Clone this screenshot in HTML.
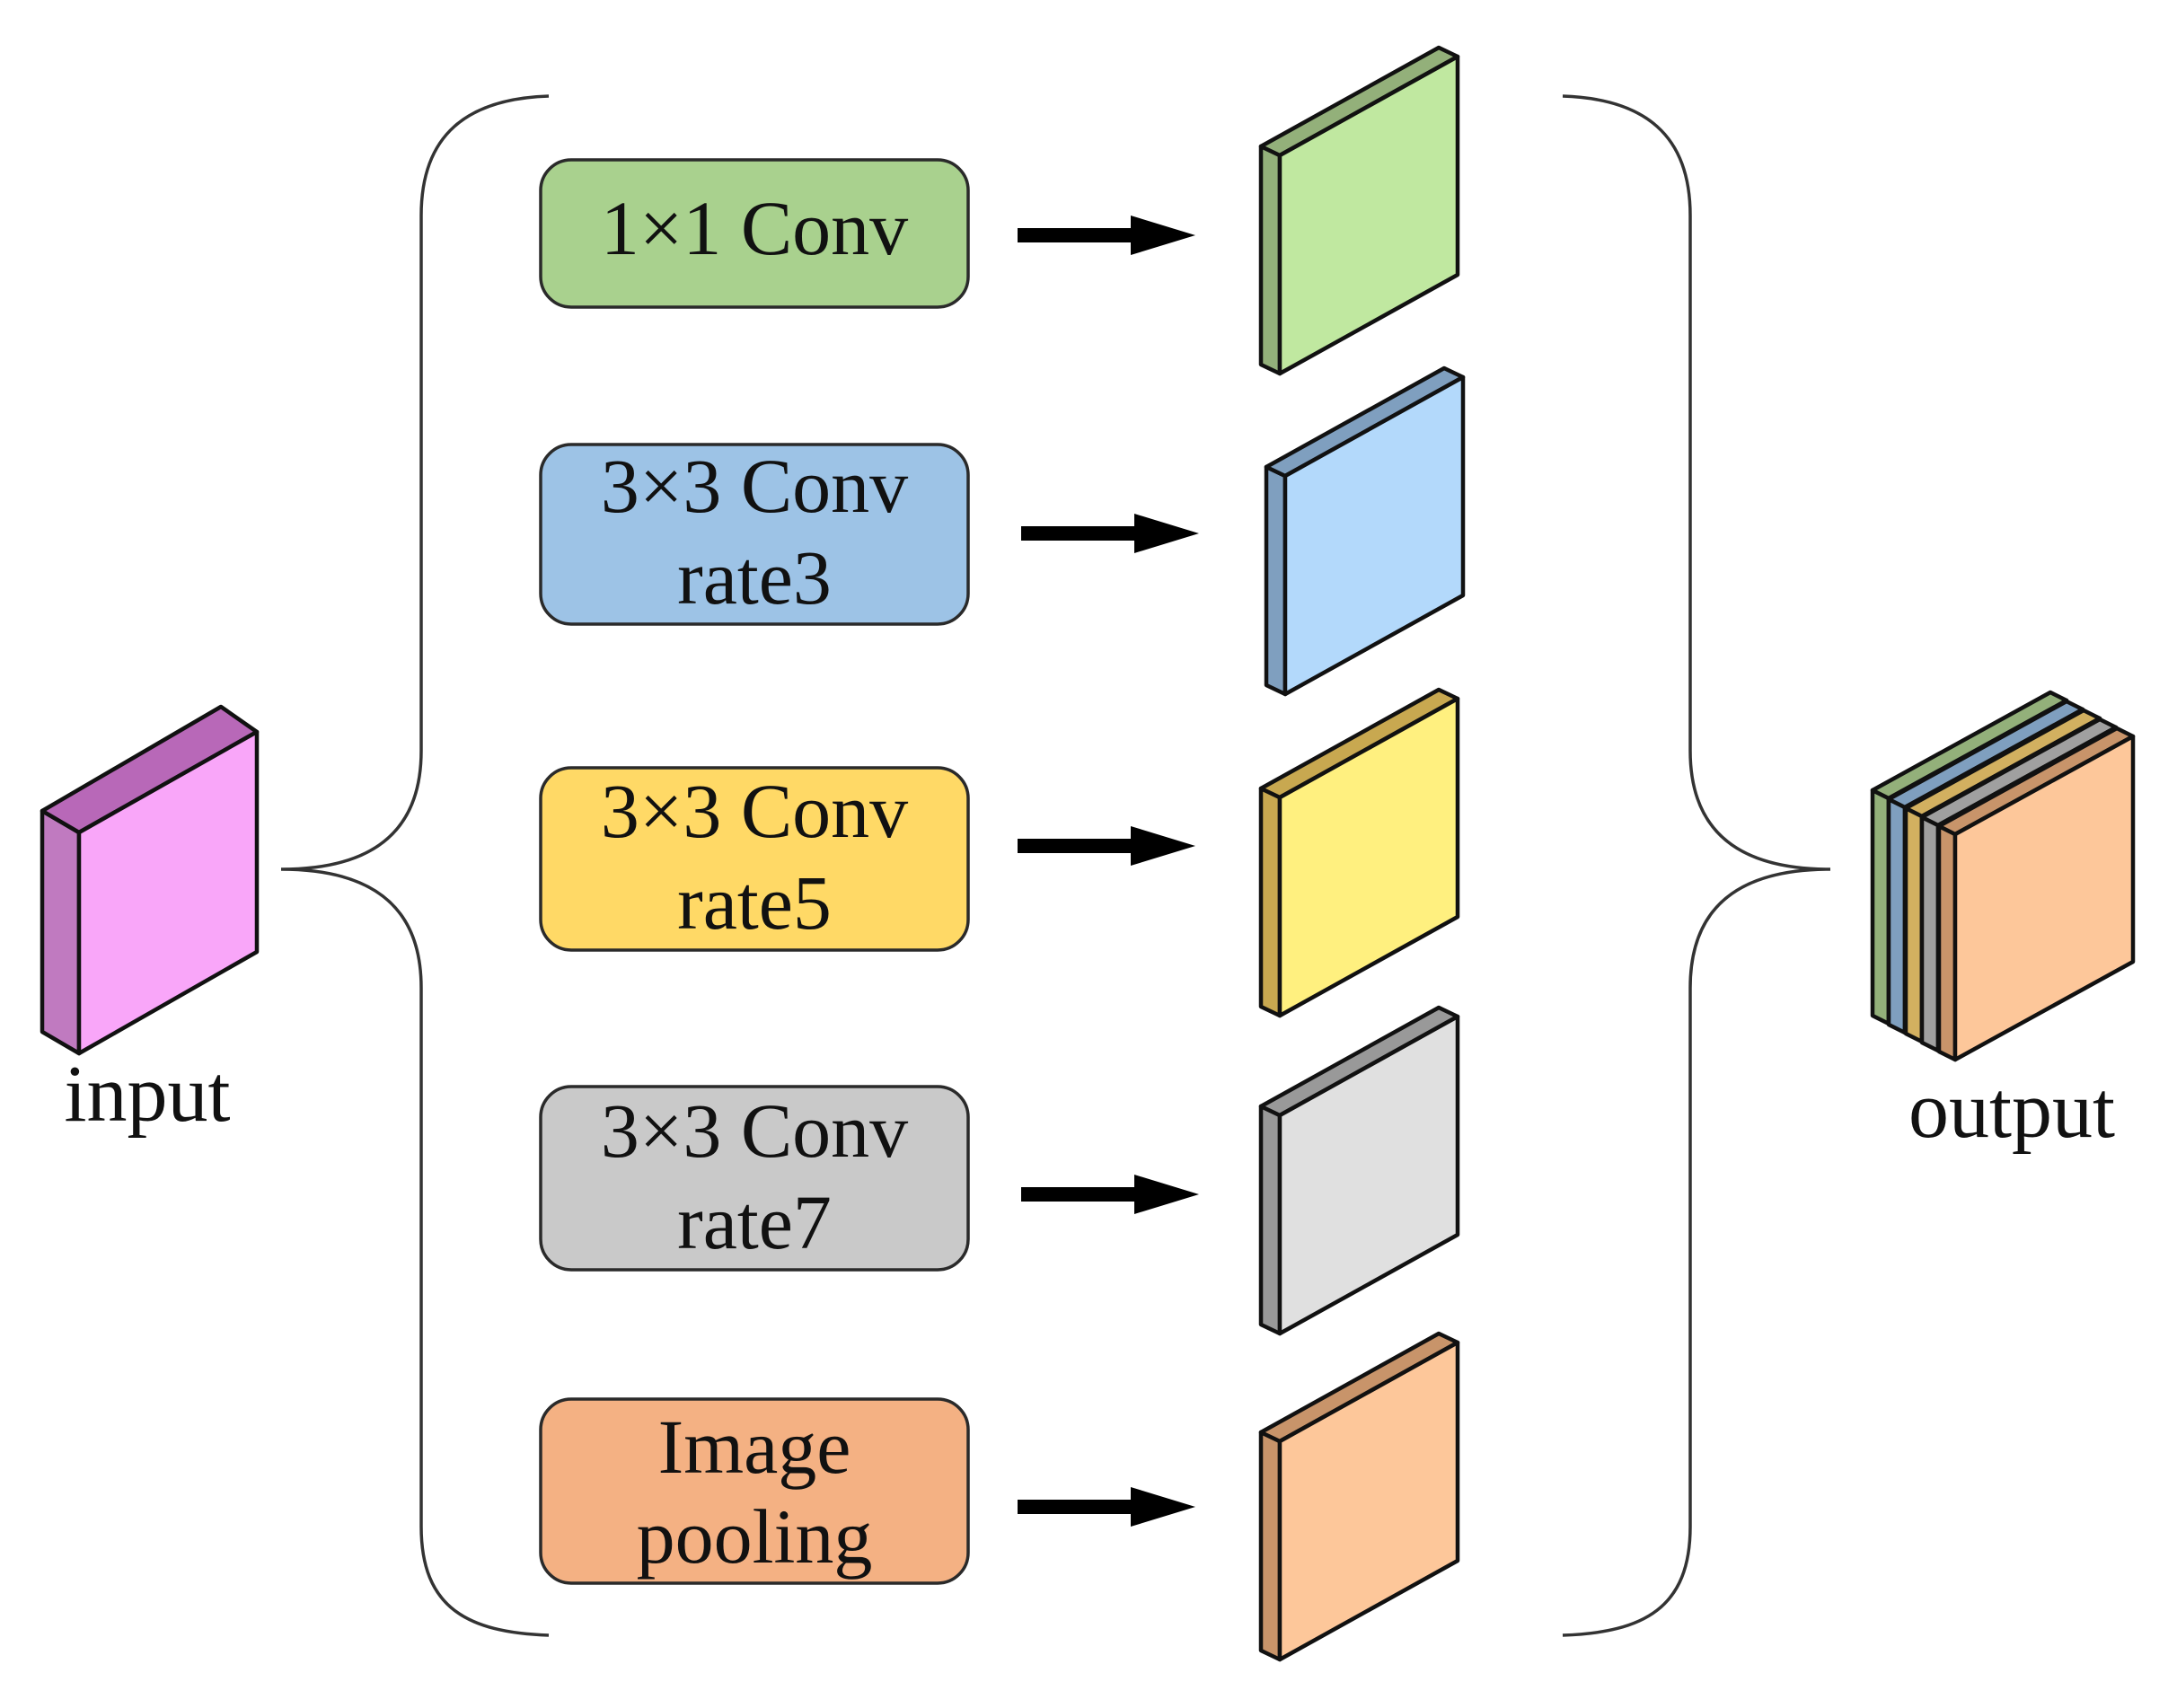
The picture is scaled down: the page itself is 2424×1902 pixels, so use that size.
<!DOCTYPE html>
<html><head><meta charset="utf-8"><style>
html,body{margin:0;padding:0;background:#fff;}
svg{display:block;}
text{font-family:"Liberation Serif",serif;fill:#111;}
</style></head><body>
<svg width="2424" height="1902" viewBox="0 0 2424 1902" xmlns="http://www.w3.org/2000/svg">
<g fill="none" stroke="#333" stroke-width="3.5">
<path d="M611,107 C520,110 469,150 469,240 L469,836 C469,930 410,968 313,968 C410,968 469,1006 469,1100 L469,1700 C469,1790 520,1818 611,1821"/>
<path d="M1740,107 C1831,110 1882,150 1882,240 L1882,836 C1882,930 1941,968 2038,968 C1941,968 1882,1006 1882,1100 L1882,1700 C1882,1790 1831,1818 1740,1821"/>
</g>
<g stroke="#2a2a2a" stroke-width="3.5">
<rect x="602" y="178" width="476" height="164" rx="34" fill="#a9d18e"/>
<rect x="602" y="495" width="476" height="200" rx="34" fill="#9dc3e6"/>
<rect x="602" y="855" width="476" height="203" rx="34" fill="#ffd966"/>
<rect x="602" y="1210" width="476" height="204" rx="34" fill="#c9c9c9"/>
<rect x="602" y="1558" width="476" height="205" rx="34" fill="#f4b183"/>
</g>
<g font-size="86" text-anchor="middle">
<text x="840" y="283">1×1 Conv</text>
<text x="840" y="570">3×3 Conv</text><text x="840" y="672">rate3</text>
<text x="840" y="932">3×3 Conv</text><text x="840" y="1034">rate5</text>
<text x="840" y="1288">3×3 Conv</text><text x="840" y="1390">rate7</text>
<text x="840" y="1640">Image</text><text x="840" y="1740">pooling</text>
</g>
<g fill="#000">
<g transform="translate(0,262)"><rect x="1133" y="-8" width="130" height="16"/><polygon points="1259,-22 1331,0 1259,22"/></g>
<g transform="translate(0,594)"><rect x="1137" y="-8" width="130" height="16"/><polygon points="1263,-22 1335,0 1263,22"/></g>
<g transform="translate(0,942)"><rect x="1133" y="-8" width="130" height="16"/><polygon points="1259,-22 1331,0 1259,22"/></g>
<g transform="translate(0,1330)"><rect x="1137" y="-8" width="130" height="16"/><polygon points="1263,-22 1335,0 1263,22"/></g>
<g transform="translate(0,1678)"><rect x="1133" y="-8" width="130" height="16"/><polygon points="1259,-22 1331,0 1259,22"/></g>
</g>
<g stroke="#111" stroke-width="4.5" stroke-linejoin="round">
<g transform="translate(1425,63)">
<polygon points="-21,100 0,110 0,353 -21,343" fill="#93b07a"/>
<polygon points="-21,100 177,-10 198,0 0,110" fill="#93b07a"/>
<polygon points="0,110 198,0 198,243 0,353" fill="#c0e8a0"/>
</g>
<g transform="translate(1431,420)">
<polygon points="-21,100 0,110 0,353 -21,343" fill="#7f9fbf"/>
<polygon points="-21,100 177,-10 198,0 0,110" fill="#7f9fbf"/>
<polygon points="0,110 198,0 198,243 0,353" fill="#b3d9fb"/>
</g>
<g transform="translate(1425,778)">
<polygon points="-21,100 0,110 0,353 -21,343" fill="#c8a850"/>
<polygon points="-21,100 177,-10 198,0 0,110" fill="#c8a850"/>
<polygon points="0,110 198,0 198,243 0,353" fill="#fff07f"/>
</g>
<g transform="translate(1425,1132)">
<polygon points="-21,100 0,110 0,353 -21,343" fill="#999"/>
<polygon points="-21,100 177,-10 198,0 0,110" fill="#999"/>
<polygon points="0,110 198,0 198,243 0,353" fill="#e0e0e0"/>
</g>
<g transform="translate(1425,1495)">
<polygon points="-21,100 0,110 0,353 -21,343" fill="#c8946a"/>
<polygon points="-21,100 177,-10 198,0 0,110" fill="#c8946a"/>
<polygon points="0,110 198,0 198,243 0,353" fill="#fdc79a"/>
</g>
<g transform="translate(88,815)">
<polygon points="-41,88 0,112 0,358 -41,334" fill="#c07ac0"/>
<polygon points="-41,88 158,-28 198,0 0,112" fill="#b868b8"/>
<polygon points="0,112 198,0 198,245 0,358" fill="#f9a6f9"/>
</g>
<g transform="translate(2103,780)">
<polygon points="-18,100 0,109 0,360 -18,351" fill="#93b07a"/>
<polygon points="-18,100 180,-9 198,0 0,109" fill="#93b07a"/>
<polygon points="0,109 198,0 198,251 0,360" fill="#c0e8a0"/>
</g>
<g transform="translate(2121,790)">
<polygon points="-18,100 0,109 0,360 -18,351" fill="#7f9fbf"/>
<polygon points="-18,100 180,-9 198,0 0,109" fill="#7f9fbf"/>
<polygon points="0,109 198,0 198,251 0,360" fill="#b3d9fb"/>
</g>
<g transform="translate(2140,800)">
<polygon points="-18,100 0,109 0,360 -18,351" fill="#d2b060"/>
<polygon points="-18,100 180,-9 198,0 0,109" fill="#d2b060"/>
<polygon points="0,109 198,0 198,251 0,360" fill="#fff07f"/>
</g>
<g transform="translate(2158,810)">
<polygon points="-18,100 0,109 0,360 -18,351" fill="#a0a0a0"/>
<polygon points="-18,100 180,-9 198,0 0,109" fill="#a0a0a0"/>
<polygon points="0,109 198,0 198,251 0,360" fill="#e0e0e0"/>
</g>
<g transform="translate(2177,820)">
<polygon points="-18,100 0,109 0,360 -18,351" fill="#c8946a"/>
<polygon points="-18,100 180,-9 198,0 0,109" fill="#c8946a"/>
<polygon points="0,109 198,0 198,251 0,360" fill="#fdc79a"/>
</g>
</g>
<text x="164" y="1248" font-size="90" text-anchor="middle">input</text>
<text x="2240" y="1266" font-size="90" text-anchor="middle">output</text>
</svg>
</body></html>
